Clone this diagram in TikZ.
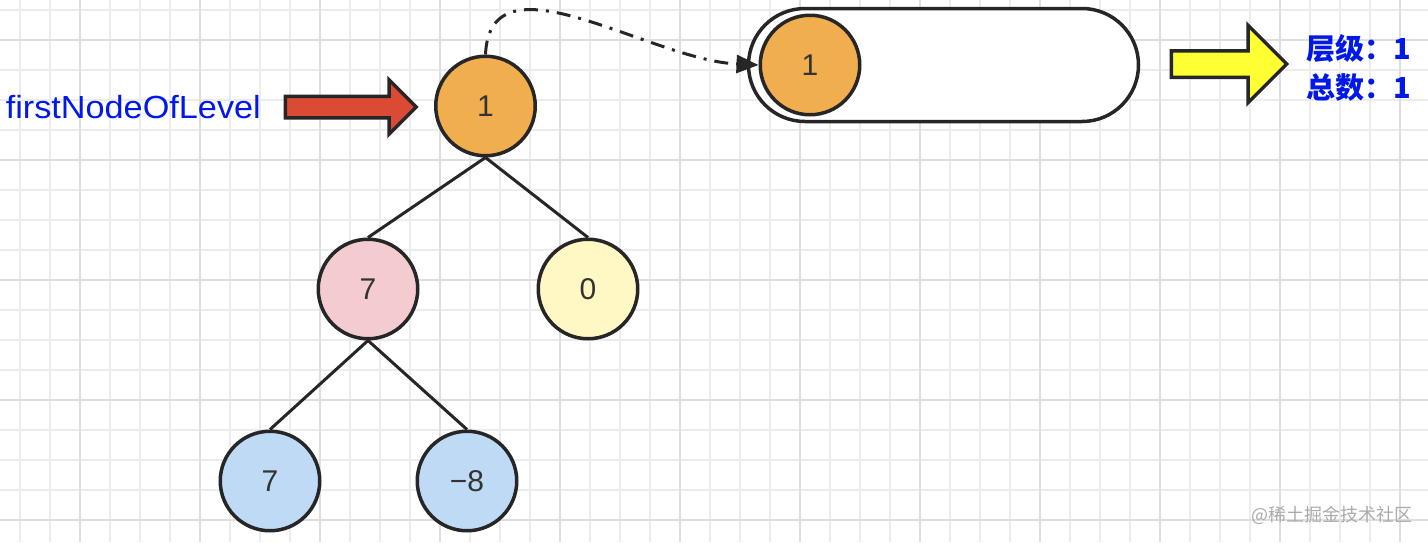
\documentclass[tikz,border=0pt]{standalone}
\usepackage{fontspec}
\setmainfont{Liberation Sans}
\newfontfamily\labelfont{Liberation Sans}[FakeStretch=1.07]
\newfontfamily\cjk{Noto Sans CJK SC}
\usetikzlibrary{positioning,arrows.meta,shapes.arrows}

\definecolor{gridminor}{RGB}{236,236,236}
\definecolor{gridmajor}{RGB}{222,222,222}
\definecolor{linecol}{RGB}{38,38,38}
\definecolor{digitcol}{RGB}{51,51,51}
\definecolor{orangefill}{RGB}{240,174,78}
\definecolor{pinkfill}{RGB}{244,204,207}
\definecolor{yellowfill}{RGB}{255,248,196}
\definecolor{bluefill}{RGB}{190,218,245}
\definecolor{redfill}{RGB}{219,74,52}
\definecolor{arrowyellow}{RGB}{255,255,51}
\definecolor{textblue}{RGB}{0,24,232}
\definecolor{wmgray}{RGB}{170,170,170}

\tikzset{
	tnode/.style={circle, draw=linecol, line width=3.5pt, minimum size=99.5pt, inner sep=0pt,
		text=digitcol, font=\fontsize{30}{30}\selectfont},
	edge/.style={draw=linecol, line width=3pt},
	blockarrow/.style={single arrow, draw=linecol, line width=3.5pt, inner xsep=0pt, anchor=tail},
	infotext/.style={anchor=base west, inner sep=0pt, text=textblue,
		font=\cjk\bfseries\fontsize{29}{29}\selectfont},
}

\begin{document}
\begin{tikzpicture}[x=1pt,y=1pt]
	\useasboundingbox (0,0) rectangle (1428,-542);
	% background grid
	\foreach \gx in {20,50,...,1430} \draw[gridminor, line width=2pt] (\gx,0) -- (\gx,-542);
	\foreach \gy in {10,40,...,540} \draw[gridminor, line width=2pt] (0,-\gy) -- (1428,-\gy);
	\foreach \gx in {80,200,...,1400} \draw[gridmajor, line width=2pt] (\gx,0) -- (\gx,-542);
	\foreach \gy in {40,160,...,520} \draw[gridmajor, line width=2pt] (0,-\gy) -- (1428,-\gy);

	% tree
	\node [tnode, fill=orangefill] (root) at (485.5,-106) {1};
	\node [tnode, fill=pinkfill] (l7) at (368,-289) {7};
	\node [tnode, fill=yellowfill] (r0) at (588,-289) {0};
	\node [tnode, fill=bluefill] (ll7) at (270,-481) {7};
	\node [tnode, fill=bluefill] (lr8) at (467,-481) {−8};
	\draw [edge] (root.south) -- (l7.north);
	\draw [edge] (root.south) -- (r0.north);
	\draw [edge] (l7.south) -- (ll7.north);
	\draw [edge] (l7.south) -- (lr8.north);

	% pointer to first node
	\node [blockarrow, fill=redfill, minimum height=131pt, inner ysep=9pt,
		single arrow head extend=16.5pt] (ptr) at (283.5,-107) {};
	\node [left=22.5pt of ptr.tail, inner sep=0pt, text=textblue,
		font=\labelfont\fontsize{32}{32}\selectfont] (levelLabel) {firstNodeOfLevel};

	% queue
	\node [draw=linecol, line width=3.5pt, fill=white, rounded corners=56.5pt,
		minimum width=390pt, minimum height=113pt] (queue) at (943.5,-65) {};
	\node [tnode, fill=orangefill] (qhead) at (810,-65) {1};
	\draw [draw=linecol, line width=3pt, dash pattern=on 14pt off 8pt on 3pt off 8pt,
		-{Triangle[length=22pt,width=18pt]}]
		(root.north) .. controls (490,50) and (650,-60) .. (qhead.west);

	% result
	\node [blockarrow, fill=arrowyellow, minimum height=115.5pt, inner ysep=11.5pt,
		single arrow head extend=25.5pt] (toInfo) at (1169.5,-64) {};
	\node [infotext] (levelInfo) at (1306,-59) {层级：1};
	\node [infotext] (countInfo) at (1306,-98) {总数：1};

	\node [anchor=base west, inner sep=0pt, text=wmgray,
		font=\cjk\fontsize{18}{18}\selectfont] (mark) at (1251,-521) {@稀土掘金技术社区};
\end{tikzpicture}
\end{document}
